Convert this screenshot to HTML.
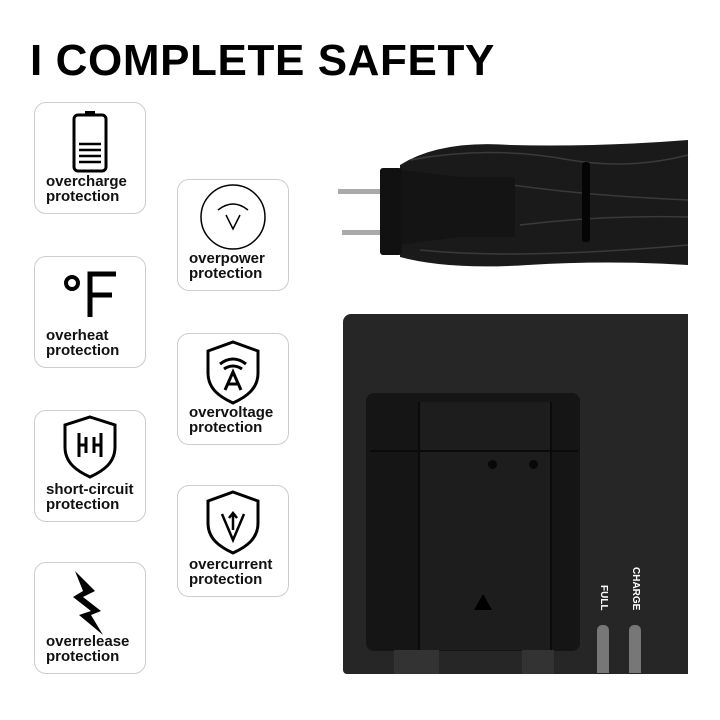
<!DOCTYPE html>
<html><head><style>
body{margin:0;width:720px;height:720px;background:#fff;position:relative;overflow:hidden;font-family:"Liberation Sans",sans-serif}
h1{position:absolute;left:30px;top:37px;margin:0;font-size:44px;font-weight:bold;letter-spacing:0.6px;color:#000;line-height:48px}
.b{position:absolute;width:110px;height:110px;border:1.5px solid #ccc;border-radius:12px;background:#fff}
.t{position:absolute;left:11px;bottom:9px;font-size:15px;font-weight:bold;line-height:15px;color:#111;letter-spacing:0px}
.b svg{position:absolute;left:0;top:0}
</style></head><body>
<h1>I COMPLETE SAFETY</h1>

<div class="b" style="left:34px;top:102px"><svg width="110" height="80"><rect x="50" y="8" width="10" height="4" fill="#000"/><rect x="39" y="12" width="32" height="56" rx="4" fill="none" stroke="#000" stroke-width="3"/><g stroke="#000" stroke-width="2.5"><line x1="44" y1="41" x2="66" y2="41"/><line x1="44" y1="47" x2="66" y2="47"/><line x1="44" y1="53" x2="66" y2="53"/><line x1="44" y1="59" x2="66" y2="59"/></g></svg><div class="t">overcharge<br>protection</div></div>

<div class="b" style="left:34px;top:256px"><svg width="110" height="80"><circle cx="37" cy="26" r="6" fill="none" stroke="#000" stroke-width="4"/><path d="M55 60V17h26M55 38h22" fill="none" stroke="#000" stroke-width="5"/></svg><div class="t">overheat<br>protection</div></div>

<div class="b" style="left:34px;top:410px"><svg width="110" height="80"><path d="M55 6l25 8v22c0 16-12 24-25 30c-13-6-25-14-25-30V14z" fill="none" stroke="#000" stroke-width="3"/><path d="M44 22v24M44 34h7M51 26v16M59 26v16M59 34h7M66 22v24" stroke="#000" stroke-width="3" fill="none"/></svg><div class="t">short-circuit<br>protection</div></div>

<div class="b" style="left:34px;top:562px"><svg width="110" height="80"><path d="M40 8l20 20l-12 6l18 14l-10 4l12 20l-24-20l12-4l-18-14l10-6z" fill="#000"/></svg><div class="t">overrelease<br>protection</div></div>

<div class="b" style="left:177px;top:179px"><svg width="110" height="80"><circle cx="55" cy="37" r="32" fill="none" stroke="#000" stroke-width="1.5"/><path d="M40 30q15-12 30 0" fill="none" stroke="#000" stroke-width="1.5"/><path d="M48 35l7 14l7-14" fill="none" stroke="#000" stroke-width="1.5"/></svg><div class="t">overpower<br>protection</div></div>

<div class="b" style="left:177px;top:333px"><svg width="110" height="80"><path d="M55 8l25 9v22c0 16-12 24-25 30c-13-6-25-14-25-30V17z" fill="none" stroke="#000" stroke-width="3"/><path d="M42 30q13-10 26 0M46 35q9-6 18 0" fill="none" stroke="#000" stroke-width="3"/><path d="M47 56l8-18l8 18M50 50h10" fill="none" stroke="#000" stroke-width="3"/></svg><div class="t">overvoltage<br>protection</div></div>

<div class="b" style="left:177px;top:485px"><svg width="110" height="80"><path d="M55 6l25 9v22c0 16-12 24-25 30c-13-6-25-14-25-30V15z" fill="none" stroke="#000" stroke-width="3"/><path d="M44 28l11 26l11-26M55 44V28M51 32l4-5l4 5" fill="none" stroke="#000" stroke-width="2.5"/></svg><div class="t">overcurrent<br>protection</div></div>

<svg style="position:absolute;left:330px;top:130px" width="390" height="150">
<rect x="8" y="59" width="44" height="5" fill="#aaa"/><rect x="12" y="100" width="42" height="5" fill="#aaa"/>
<path d="M70 35q40-25 110-20q90 2 178-5v125q-80-5-160 0q-80 5-128-8z" fill="#1a1a1a"/>
<g fill="none" stroke="#3a3a3a" stroke-width="1.5">
<path d="M80 30q80-15 160 0q60 10 118 -5"/>
<path d="M150 50q90 15 208 20"/>
<path d="M190 95q80-10 168-8"/>
<path d="M90 120q100 10 268-5"/>
</g>
<path d="M50 40h20l60 7h55v60h-55l-60 8h-20z" fill="#141414"/>
<rect x="50" y="38" width="22" height="87" rx="3" fill="#111"/>
<rect x="252" y="32" width="8" height="80" rx="3" fill="#050505"/>
</svg>

<div style="position:absolute;left:343px;top:314px;width:345px;height:360px;background:#262626;border-radius:8px 0 0 4px"></div>
<div style="position:absolute;left:366px;top:393px;width:214px;height:258px;background:#151515;border-radius:8px"></div>
<div style="position:absolute;left:418px;top:402px;width:130px;height:248px;background:#1d1d1d;border-left:2px solid #0a0a0a;border-right:2px solid #0a0a0a"></div>
<div style="position:absolute;left:370px;top:450px;width:208px;height:2px;background:#0a0a0a"></div>
<div style="position:absolute;left:488px;top:460px;width:9px;height:9px;border-radius:50%;background:#080808"></div>
<div style="position:absolute;left:529px;top:460px;width:9px;height:9px;border-radius:50%;background:#080808"></div>
<div style="position:absolute;left:474px;top:594px;width:0;height:0;border-left:9px solid transparent;border-right:9px solid transparent;border-bottom:16px solid #000"></div>
<div style="position:absolute;left:394px;top:650px;width:45px;height:24px;background:#333"></div>
<div style="position:absolute;left:522px;top:650px;width:32px;height:24px;background:#333"></div>
<div style="position:absolute;left:597px;top:625px;width:12px;height:48px;background:#777;border-radius:5px 5px 0 0"></div>
<div style="position:absolute;left:629px;top:625px;width:12px;height:48px;background:#777;border-radius:5px 5px 0 0"></div>
<div style="position:absolute;left:596px;top:585px;width:14px;transform:rotate(90deg);transform-origin:7px 7px;font-size:10px;font-weight:bold;color:#fff;white-space:nowrap;line-height:14px">FULL</div>
<div style="position:absolute;left:628px;top:567px;width:14px;transform:rotate(90deg);transform-origin:7px 7px;font-size:10px;font-weight:bold;color:#fff;white-space:nowrap;line-height:14px">CHARGE</div>
</body></html>
